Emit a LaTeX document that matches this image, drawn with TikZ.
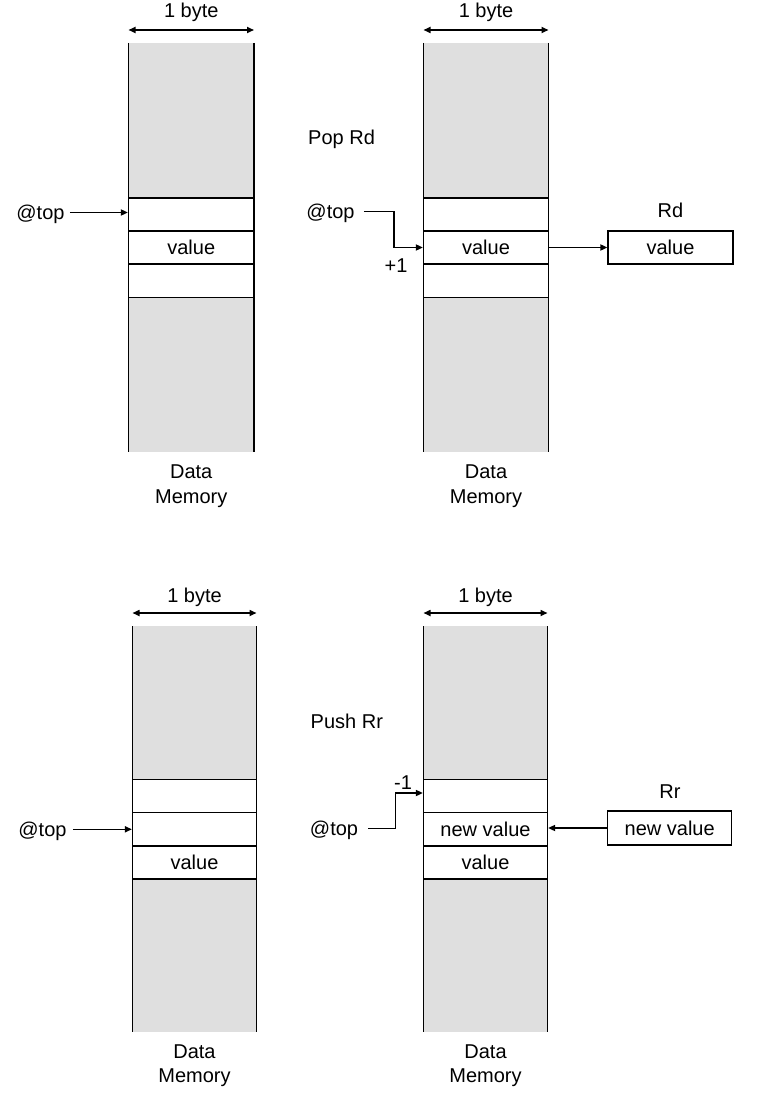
\documentclass[tikz,border=0pt]{standalone}
\usepackage{fontspec}
\setmainfont{Liberation Sans}
\usetikzlibrary{arrows.meta}
\definecolor{memgray}{HTML}{DFDFDF}
\begin{document}
\begin{tikzpicture}[x=1pt,y=-1pt,
  txt/.style={inner sep=0pt,text height=14pt,text depth=0pt,font=\fontsize{20}{24}\selectfont},
  cell/.style={draw,line width=1.2pt,fill=white,minimum height=33pt,inner sep=0pt,
               text height=14pt,text depth=0pt,font=\fontsize{20}{24}\selectfont},
  side/.style={line width=1.2pt},
  arr/.style={line width=1.6pt,-{Triangle[length=7pt,width=6pt]}},
  span/.style={line width=1.6pt,{Triangle[length=7pt,width=6pt]}-{Triangle[length=7pt,width=6pt]}},
  memlbl/.style={font=\fontsize{20}{24.5}\selectfont,inner sep=0pt,align=center}]
\useasboundingbox (0,0) rectangle (762,1118);

% ---------- Top left: stack before pop ----------
\fill[memgray] (128.5,43) rectangle (254,452);
\draw[side] (128.5,43) -- (128.5,452);
\draw[side] (254,43) -- (254,452);
\node[cell,minimum width=125.5pt] (tl1) at (191.25,214.5) {};
\node[cell,minimum width=125.5pt] (tl2) at (191.25,247.5) {value};
\node[cell,minimum width=125.5pt] (tl3) at (191.25,281) {};
\coordinate (tlL) at (128.5,30);
\coordinate (tlR) at (254,30);
\draw[span] (tlL) -- (tlR);
\node[txt] (tlbyte) at (191.25,11) {1 byte};
\node[txt] (tltop) at (40.5,212.5) {@top};
\draw[arr] ([xshift=5pt]tltop.east) -- (tltop.east -| tl1.west);
\node[memlbl] (tlmem) at (191.25,486) {Data\\Memory};

% ---------- Top right: Pop Rd ----------
\fill[memgray] (423.5,43) rectangle (548.5,452);
\draw[side] (423.5,43) -- (423.5,452);
\draw[side] (548.5,43) -- (548.5,452);
\node[cell,minimum width=125pt] (tr1) at (486,214.5) {};
\node[cell,minimum width=125pt] (tr2) at (486,247.5) {value};
\node[cell,minimum width=125pt] (tr3) at (486,281) {};
\coordinate (trL) at (423.5,30);
\coordinate (trR) at (548.5,30);
\draw[span] (trL) -- (trR);
\node[txt] (trbyte) at (486,11) {1 byte};
\node[txt,anchor=west] (pop) at (308,138) {Pop Rd};
\node[txt] (trtop) at (330.5,211.5) {@top};
\draw[arr] ([xshift=9pt]trtop.east) -| ([xshift=-29pt]tr2.west) -- (tr2.west);
\node[txt] (plus) at (396,265) {+1};
\node[cell,minimum width=125pt] (rd) at (670.5,247.5) {value};
\node[txt] (rdlbl) at (670.5,210) {Rd};
\draw[arr] (tr2.east) -- (rd.west);
\node[memlbl] (trmem) at (486,486) {Data\\Memory};

% ---------- Bottom left: stack before push ----------
\fill[memgray] (132.5,626) rectangle (256.5,1032);
\draw[side] (132.5,626) -- (132.5,1032);
\draw[side] (256.5,626) -- (256.5,1032);
\node[cell,minimum width=124pt] (bl1) at (194.5,796) {};
\node[cell,minimum width=124pt] (bl2) at (194.5,829.3) {};
\node[cell,minimum width=124pt] (bl3) at (194.5,862.5) {value};
\coordinate (blL) at (132.5,613);
\coordinate (blR) at (256.5,613);
\draw[span] (blL) -- (blR);
\node[txt] (blbyte) at (194.5,595) {1 byte};
\node[txt] (bltop) at (42.5,829.3) {@top};
\draw[arr] ([xshift=6pt]bltop.east) -- (bltop.east -| bl2.west);
\node[memlbl] (blmem) at (194.5,1065.5) {Data\\Memory};

% ---------- Bottom right: Push Rr ----------
\fill[memgray] (423.5,626) rectangle (547.5,1032);
\draw[side] (423.5,626) -- (423.5,1032);
\draw[side] (547.5,626) -- (547.5,1032);
\node[cell,minimum width=124pt] (br1) at (485.5,796) {};
\node[cell,minimum width=124pt] (br2) at (485.5,829.3) {new value};
\node[cell,minimum width=124pt] (br3) at (485.5,862.5) {value};
\coordinate (brL) at (423.5,613);
\coordinate (brR) at (547.5,613);
\draw[span] (brL) -- (brR);
\node[txt] (brbyte) at (485.5,595) {1 byte};
\node[txt,anchor=west] (push) at (310.5,721) {Push Rr};
\node[txt] (brtop) at (334,828.5) {@top};
\draw[arr] ([xshift=10pt]brtop.east) -| ([xshift=-27.5pt,yshift=3pt]br1.west) -- ([yshift=3pt]br1.west);
\node[txt] (minus) at (403,782) {-1};
\node[cell,minimum width=124pt,minimum height=34pt] (rr) at (669.7,828) {new value};
\node[txt] (rrlbl) at (670,791) {Rr};
\draw[arr] (rr.west) -- (rr.west -| br2.east);
\node[memlbl] (brmem) at (485.5,1065.5) {Data\\Memory};
\end{tikzpicture}
\end{document}
